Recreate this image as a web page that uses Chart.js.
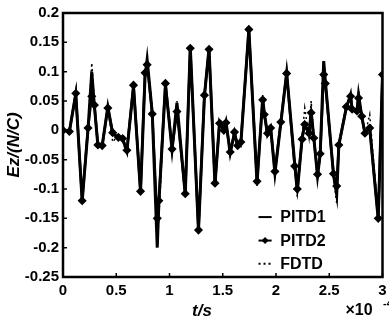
<!doctype html>
<html>
<head>
    <script src="https://cdn.jsdelivr.net/npm/chart.js@4.4.0/dist/chart.umd.min.js"></script>
    <style>
        body { margin: 0; background: #fff; }
        #wrap { width: 389px; height: 323px; }
    </style>
    <script>
        // time axis in units of 1e-4 s
        const times = [0.00, 0.06, 0.12, 0.18, 0.235, 0.27, 0.295, 0.328, 0.368, 0.421, 0.467, 0.52, 0.56, 0.60,
            0.662, 0.728, 0.77, 0.79, 0.838, 0.885, 0.90, 0.962, 1.024, 1.07, 1.148, 1.195, 1.272, 1.328, 1.371,
            1.427, 1.47, 1.51, 1.53, 1.57, 1.61, 1.64, 1.67, 1.745, 1.822, 1.875, 1.89, 1.92, 1.95, 1.99, 2.045,
            2.10, 2.175, 2.20, 2.245, 2.27, 2.31, 2.33, 2.355, 2.39, 2.415, 2.448, 2.463, 2.54, 2.57, 2.59, 2.66,
            2.70, 2.715, 2.76, 2.775, 2.805, 2.835, 2.88, 2.96, 3.00];

        const pitd1 = [0.000, -0.002, 0.062, -0.121, 0.002, 0.100, 0.041, -0.027, -0.026, 0.040, -0.006, -0.012, -0.015, -0.036,
            0.075, -0.106, 0.090, 0.121, 0.030, -0.200, -0.125, 0.078, -0.033, 0.047, -0.110, 0.143, -0.172, 0.058, 0.140,
            -0.093, 0.015, 0.003, 0.015, -0.039, -0.005, -0.027, -0.022, 0.172, -0.090, 0.055, 0.030, -0.007, 0.004, -0.073, 0.012,
            0.098, -0.055, -0.105, -0.013, 0.010, -0.007, 0.032, -0.013, -0.078, -0.041, 0.118, 0.085, -0.076, -0.110, -0.025, 0.038,
            0.061, 0.035, 0.032, 0.061, 0.024, -0.005, 0.004, -0.152, 0.095];

        const pitd2 = [0.000, -0.002, 0.063, -0.120, 0.004, 0.058, 0.043, -0.025, -0.026, 0.038, -0.004, -0.012, -0.014, -0.034,
            0.077, -0.104, 0.098, 0.112, 0.028, -0.150, -0.120, 0.080, -0.032, 0.032, -0.108, 0.140, -0.170, 0.060, 0.138,
            -0.090, 0.012, 0.000, 0.013, -0.037, -0.003, -0.026, -0.020, 0.172, -0.087, 0.052, 0.027, -0.005, 0.004, -0.070, 0.014,
            0.097, -0.061, -0.100, -0.015, 0.010, -0.005, 0.030, -0.013, -0.075, -0.040, 0.095, 0.080, -0.074, -0.095, -0.025, 0.040,
            0.058, 0.036, 0.033, 0.055, 0.024, -0.005, 0.004, -0.150, 0.095];

        const fdtd = [0.000, 0.000, 0.060, -0.118, 0.000, 0.115, 0.045, -0.030, -0.022, 0.036, -0.020, -0.008, -0.018, -0.042,
            0.072, -0.100, 0.085, 0.125, 0.035, -0.195, -0.150, 0.075, -0.030, 0.050, -0.105, 0.145, -0.168, 0.055, 0.142,
            -0.096, 0.020, 0.008, 0.012, -0.035, -0.010, -0.025, -0.028, 0.168, -0.095, 0.060, 0.032, -0.010, 0.000, -0.075, 0.010,
            0.100, -0.050, -0.113, -0.010, 0.038, -0.012, 0.050, -0.010, -0.082, -0.045, 0.120, 0.090, -0.080, -0.124, -0.030, 0.035,
            0.064, 0.040, 0.030, 0.069, 0.028, -0.008, 0.027, -0.148, 0.095];

        const seriesNames = ['PITD1', 'PITD2', 'FDTD'];
        const xTicks = [0, 0.5, 1, 1.5, 2, 2.5, 3];

        function pts(vals) {
            return times.map((t, i) => ({ x: t, y: vals[i] }));
        }

        const fmt = v => String(Math.round(v * 100) / 100);

        // frame, inner tick marks, legend and axis titles
        const decor = {
            id: 'decor',
            afterDraw(chart) {
                const c = chart.ctx, a = chart.chartArea;
                const xs = chart.scales.x, ys = chart.scales.y;
                c.save();
                c.strokeStyle = '#000';
                c.lineWidth = 2.5;
                c.strokeRect(a.left, a.top, a.right - a.left, a.bottom - a.top);
                c.lineWidth = 1.5;
                c.beginPath();
                xTicks.forEach(v => {
                    const px = xs.getPixelForValue(v);
                    c.moveTo(px, a.bottom); c.lineTo(px, a.bottom - 4);
                });
                ys.ticks.forEach(t => {
                    const py = ys.getPixelForValue(t.value);
                    c.moveTo(a.left, py); c.lineTo(a.left + 4, py);
                });
                c.stroke();

                // legend inside the plot
                const w = a.right - a.left, h = a.bottom - a.top;
                const sx0 = a.left + 0.612 * w, sx1 = a.left + 0.653 * w, tx = a.left + 0.68 * w;
                const rows = [0.773, 0.862, 0.95].map(f => a.top + f * h);
                c.font = 'bold 16px "Liberation Sans", Arial, sans-serif';
                c.textBaseline = 'middle';
                c.fillStyle = '#000';
                rows.forEach((ry, i) => {
                    const ds = chart.data.datasets[i];
                    c.beginPath();
                    c.lineWidth = 2;
                    c.setLineDash(ds.borderDash || []);
                    c.moveTo(sx0, ry); c.lineTo(sx1, ry);
                    c.stroke();
                    c.setLineDash([]);
                    if (ds.pointRadius > 0) {
                        const mx = (sx0 + sx1) / 2;
                        c.beginPath();
                        c.moveTo(mx, ry - 3.5); c.lineTo(mx + 3.5, ry); c.lineTo(mx, ry + 3.5); c.lineTo(mx - 3.5, ry);
                        c.closePath(); c.fill();
                    }
                    c.fillText(seriesNames[i], tx, ry + 1);
                });

                // axis titles
                c.font = 'italic bold 17px "Liberation Sans", Arial, sans-serif';
                c.textAlign = 'center';
                c.fillText('t/s', a.left + 0.435 * w, 311);
                c.save();
                c.translate(14, (a.top + a.bottom) / 2);
                c.rotate(-Math.PI / 2);
                c.fillText('Ez/(N/C)', 0, 0);
                c.restore();
                c.textAlign = 'left';
                c.font = 'bold 16px "Liberation Sans", Arial, sans-serif';
                c.fillText('\u00d710', a.right - 37, 311);
                c.font = 'bold 11px "Liberation Sans", Arial, sans-serif';
                c.fillText('-4', a.right + 0.5, 304);
                c.restore();
            }
        };

        const config = {
            type: 'line',
            data: {
                datasets: [
                    {
                        label: seriesNames[0],
                        data: pts(pitd1),
                        borderColor: '#000',
                        borderWidth: 3,
                        pointRadius: 0,
                        tension: 0
                    },
                    {
                        label: seriesNames[1],
                        data: pts(pitd2),
                        borderColor: '#000',
                        backgroundColor: '#000',
                        borderWidth: 2.5,
                        pointStyle: 'rectRot',
                        pointRadius: 2.8,
                        tension: 0
                    },
                    {
                        label: seriesNames[2],
                        data: pts(fdtd),
                        borderColor: '#000',
                        borderWidth: 1.5,
                        borderDash: [2, 3],
                        pointRadius: 0,
                        tension: 0
                    },
                ]
            },
            options: {
                responsive: false,
                animation: false,
                devicePixelRatio: 1,
                layout: { padding: { top: 13, right: 3, left: 0, bottom: 0 } },
                plugins: {
                    legend: { display: false },
                    tooltip: { enabled: false }
                },
                scales: {
                    x: {
                        type: 'linear',
                        min: 0,
                        max: 3,
                        grid: { display: false, drawTicks: false },
                        border: { display: false },
                        afterBuildTicks: s => { s.ticks = xTicks.map(v => ({ value: v })); },
                        afterFit: s => { s.height = 46; s.paddingLeft = 0; s.paddingRight = 0; },
                        ticks: {
                            color: '#000',
                            padding: 5,
                            maxRotation: 0,
                            font: { family: '"Liberation Sans", Arial, sans-serif', size: 15, weight: 'bold' },
                            callback: v => fmt(v)
                        }
                    },
                    y: {
                        min: -0.25,
                        max: 0.2,
                        grid: { display: false, drawTicks: false },
                        border: { display: false },
                        afterFit: s => { s.width = 63; s.paddingTop = 0; s.paddingBottom = 0; },
                        ticks: {
                            stepSize: 0.05,
                            color: '#000',
                            padding: 4,
                            font: { family: '"Liberation Sans", Arial, sans-serif', size: 15, weight: 'bold' },
                            callback: v => fmt(v)
                        }
                    }
                }
            },
            plugins: [decor]
        };
    </script>
</head>
<body>
    <div id="wrap"><canvas id="chart" width="389" height="323"></canvas></div>
</body>
<script>
const ctx = document.getElementById('chart').getContext('2d');
const chart = new Chart(ctx, config);
</script>
</html>
